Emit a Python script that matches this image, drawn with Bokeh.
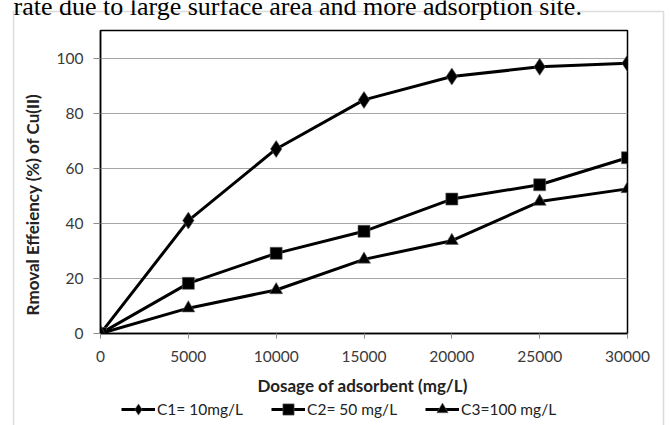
from bokeh.plotting import figure
from bokeh.models import Range1d, FixedTicker, Label, BoxAnnotation, Legend, LegendItem
from bokeh.embed import file_html
from bokeh.resources import INLINE

# ---- data ----
dosage = [0, 5000, 10000, 15000, 20000, 25000, 30000]
c1_removal = [0, 41.0, 67.0, 84.8, 93.3, 96.8, 98.1]
c2_removal = [0, 18.2, 29.1, 37.1, 48.8, 54.0, 63.8]
c3_removal = [0, 9.2, 15.8, 26.9, 33.7, 47.9, 52.5]
series_labels = ["C1= 10mg/L", "C2= 50 mg/L", "C3=100 mg/L"]
x_ticks = [0, 5000, 10000, 15000, 20000, 25000, 30000]
y_ticks = [0, 20, 40, 60, 80, 100]
x_title = "Dosage of adsorbent (mg/L)"
y_title = "Rmoval Effeiency (%) of Cu(II)"
header_text = "rate due to large surface area and more adsorption site."

FONT = "Lato"
TICK_COLOR = "#3a3a3a"
TITLE_COLOR = "#222222"
W, H = 670, 425
ABS = {"position": "absolute", "left": "0px", "top": "0px"}
markers = [("diamond", 17), ("square", 12), ("triangle", 13)]
NAN = float("nan")

# ---------- background sheet: page-pixel coordinates (y down) ----------
bg = figure(width=W, height=H, output_backend="svg", toolbar_location=None,
            x_range=Range1d(0, W), y_range=Range1d(H, 0),
            min_border=0, min_border_left=0, min_border_right=0,
            min_border_top=0, min_border_bottom=0,
            x_axis_location=None, y_axis_location=None,
            background_fill_color="white", border_fill_color="white",
            styles=ABS)
bg.grid.visible = False
bg.outline_line_color = None

bg.add_layout(BoxAnnotation(left=13, right=663, top=11, bottom=H + 20,
                            fill_alpha=0, line_color="#8c8c8c", line_width=1.5))
bg.add_layout(Label(x=13, y=6, text=header_text, text_align="left",
                    text_baseline="alphabetic", text_font="Liberation Serif",
                    text_font_size="26px", text_color="black"))
bg.add_layout(Label(x=32, y=204, text=y_title, angle=90, angle_units="deg",
                    text_align="center", text_baseline="middle",
                    text_font=FONT, text_font_style="bold", text_font_size="17px",
                    text_color=TITLE_COLOR))
bg.add_layout(Label(x=362, y=385, text=x_title, text_align="center",
                    text_baseline="middle", text_font=FONT, text_font_style="bold",
                    text_font_size="17px", text_color=TITLE_COLOR))

# legend (drawn on the background sheet with glyphs styled like the series)
items = []
for (marker, size), lab in zip(markers, series_labels):
    lr = bg.line([NAN], [NAN], line_color="black", line_width=3)
    sr = bg.scatter([NAN], [NAN], marker=marker, size=size, fill_color="black",
                    line_color="#606060", line_width=0.6)
    items.append(LegendItem(label=lab, renderers=[lr, sr]))
legend = Legend(items=items, orientation="horizontal", location=(121, H - 423),
                glyph_width=34, glyph_height=28, label_standoff=2, spacing=28,
                padding=0, margin=0, border_line_color=None, background_fill_alpha=0,
                label_text_font=FONT, label_text_font_size="15.5px",
                label_text_color=TITLE_COLOR, label_height=16)
bg.add_layout(legend)

# ---------- chart ----------
p = figure(width=W, height=H, output_backend="svg", toolbar_location=None,
           x_range=Range1d(0, 30000), y_range=Range1d(0, 110),
           min_border_left=100, min_border_right=43, min_border_top=30, min_border_bottom=92,
           background_fill_color="white", border_fill_alpha=0,
           styles=ABS)

p.outline_line_color = "black"
p.outline_line_width = 1.5

p.xaxis.ticker = FixedTicker(ticks=x_ticks)
p.yaxis.ticker = FixedTicker(ticks=y_ticks)
for ax in (p.xaxis, p.yaxis):
    ax.axis_line_color = "black"
    ax.axis_line_width = 1.5
    ax.major_tick_in = 0
    ax.major_tick_line_color = "#8c8c8c"
    ax.minor_tick_line_color = None
    ax.major_label_text_font = FONT
    ax.major_label_text_font_size = "15.5px"
    ax.major_label_text_color = TICK_COLOR
p.xaxis.major_tick_out = 5
p.yaxis.major_tick_out = 7
p.xaxis.major_label_standoff = 12
p.yaxis.major_label_standoff = 10

p.xgrid.grid_line_color = None
p.ygrid.ticker = FixedTicker(ticks=y_ticks)
p.ygrid.grid_line_color = "#a6a6a6"
p.ygrid.grid_line_width = 1

for vals, (marker, size) in zip([c1_removal, c2_removal, c3_removal], markers):
    p.line(dosage, vals, line_color="black", line_width=3)
    p.scatter(dosage, vals, marker=marker, size=size, fill_color="black",
              line_color="#606060", line_width=0.6)

open("out.html", "w").write(file_html([bg, p], INLINE))
